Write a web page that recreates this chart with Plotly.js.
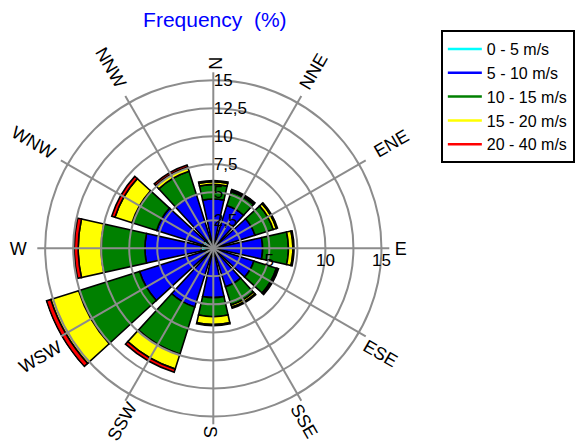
<!DOCTYPE html>
<html><head><meta charset="utf-8">
<script src="https://cdn.plot.ly/plotly-3.0.1.min.js"></script>
<style>html,body{margin:0;padding:0;background:#fff}#chart{width:587px;height:443px}</style>
</head><body><div id="chart"></div>
<script>
// ---- data (frequency % per direction and speed bin) ----
const directions = ['N','NNE','ENE','E','ESE','SSE','S','SSW','WSW','W','WNW','NNW'];
const speedBins  = ['0 - 5 m/s','5 - 10 m/s','10 - 15 m/s','15 - 20 m/s','20 - 40 m/s'];
const freq0to5   = [0.6, 0.5, 0.5, 0.6, 0.5, 0.5, 0.7, 0.6, 0.8, 1.1, 1.0, 0.9];
const freq5to10  = [3.8, 3.5, 3.4, 3.8, 3.3, 3.1, 3.7, 4.9, 6.1, 5.0, 4.3, 4.1];
const freq10to15 = [1.3, 1.3, 1.7, 2.3, 2.1, 1.7, 1.7, 4.4, 5.7, 3.9, 2.3, 2.2];
const freq15to20 = [0.25,0.1, 0.3, 0.4, 0.1, 0.2, 0.7, 1.4, 2.6, 2.05,1.6, 0.4];
const freq20to40 = [0.1, 0.1, 0.1, 0.1, 0.1, 0.1, 0.1, 0.3, 0.4, 0.35,0.3, 0.2];
const radialTicks    = [2.5, 5, 7.5, 10, 12.5, 15];
const radialTickText = ['2,5','5','7,5','10','12,5','15'];
const eastTicks      = [5, 10, 15];
const eastTickText   = ['5','10','15'];

// ---- styles / layout ----
const series = [freq0to5, freq5to10, freq10to15, freq15to20, freq20to40];
const colors = ['#00ffff','#0000ff','#008000','#ffff00','#ff0000'];
const FONT = 'Liberation Sans, Arial, sans-serif';
const GRID = '#8c8c8c';
const W = 587, H = 443, CX = 213.3, CY = 194.7, R = 176;
const labelShift = [-4, 0, 9, 5, 0, -8, -2, -10, 2, 10, 6, 2]; // px, per label overlay
function dom(r) { return {x: [(CX - r) / W, (CX + r) / W], y: [(CY - r) / H, (CY + r) / H]}; }
const step = 360 / directions.length;
const theta = directions.map((d, i) => i * step);
const rmax = 15.7;
const domain = dom(R);
const clear = 'rgba(0,0,0,0)';

const traces = [];
series.forEach((vals, k) => {
  traces.push({
    type: 'barpolar', subplot: 'polar', r: vals, theta: theta, width: 25,
    name: speedBins[k], showlegend: false, hoverinfo: 'skip',
    marker: {color: colors[k], line: {color: '#000', width: 1.6}}
  });
});
// legend entries (line samples) on the grid subplot
series.forEach((vals, k) => {
  traces.push({
    type: 'scatterpolar', subplot: 'polar2', r: [0, 0], theta: [0, 0], mode: 'lines',
    name: speedBins[k], line: {color: colors[k], width: 2.5}
  });
});
traces.push({type: 'scatterpolar', subplot: 'polar3', r: [0, 0], theta: [0, 0], mode: 'lines', showlegend: false, line: {color: clear}});

const baseAng = {type: 'linear', thetaunit: 'degrees', direction: 'clockwise', rotation: 90};
const layout = {
  width: W, height: H,
  margin: {l: 0, r: 0, t: 0, b: 0},
  paper_bgcolor: '#fff',
  font: {family: FONT, color: '#000', size: 17},
  title: {text: 'Frequency&nbsp; (%)', font: {family: FONT, size: 21, color: '#0000ff'},
          x: 0.366, xanchor: 'center', y: 0.955, yanchor: 'middle', yref: 'container'},
  showlegend: true,
  legend: {x: 0.751, xanchor: 'left', y: 0.932, yanchor: 'top', bgcolor: '#fff', itemwidth: 34,
           bordercolor: '#000', borderwidth: 2, font: {family: FONT, size: 16}, tracegroupgap: 0},
  polar: {
    domain: domain, bgcolor: clear, barmode: 'stack',
    angularaxis: Object.assign({}, baseAng, {visible: false}),
    radialaxis: {range: [0, rmax], visible: false}
  },
  polar2: {
    domain: domain, bgcolor: clear,
    angularaxis: Object.assign({}, baseAng, {tickmode: 'array', tickvals: theta, showticklabels: false,
      ticks: '', showline: false, showgrid: true, gridcolor: GRID, gridwidth: 2}),
    radialaxis: {range: [0, rmax], angle: 90, tickangle: 90, tickmode: 'array', tickvals: radialTicks, ticktext: radialTickText,
      ticks: '', showline: false, showgrid: true, gridcolor: GRID, gridwidth: 2,
      tickfont: {family: FONT, size: 17, color: '#000'}}
  },
  polar3: {
    domain: domain, bgcolor: clear,
    angularaxis: Object.assign({}, baseAng, {visible: false}),
    radialaxis: {range: [0, rmax], angle: 0, tickmode: 'array', tickvals: eastTicks, ticktext: eastTickText,
      ticks: '', showline: false, showgrid: false, tickfont: {family: FONT, size: 17, color: '#000'}}
  }
};
// one overlay subplot per direction label so each label can be rotated radially
directions.forEach((d, i) => {
  const key = 'polar' + (i + 4);
  const a = theta[i];
  const rot = a <= 180 ? a - 90 : a - 270;
  layout[key] = {
    domain: dom(R + labelShift[i]), bgcolor: clear,
    angularaxis: Object.assign({}, baseAng, {tickmode: 'array', tickvals: [a], ticktext: [d], tickangle: rot,
      ticks: '', showline: false, showgrid: false, tickfont: {family: FONT, size: 18, color: '#000'}}),
    radialaxis: {range: [0, rmax], visible: false}
  };
  traces.push({type: 'scatterpolar', subplot: key, r: [0, 0], theta: [0, 0], mode: 'lines', showlegend: false, line: {color: clear}});
});

Plotly.newPlot('chart', traces, layout, {displayModeBar: false, staticPlot: true});
</script>
</body></html>
